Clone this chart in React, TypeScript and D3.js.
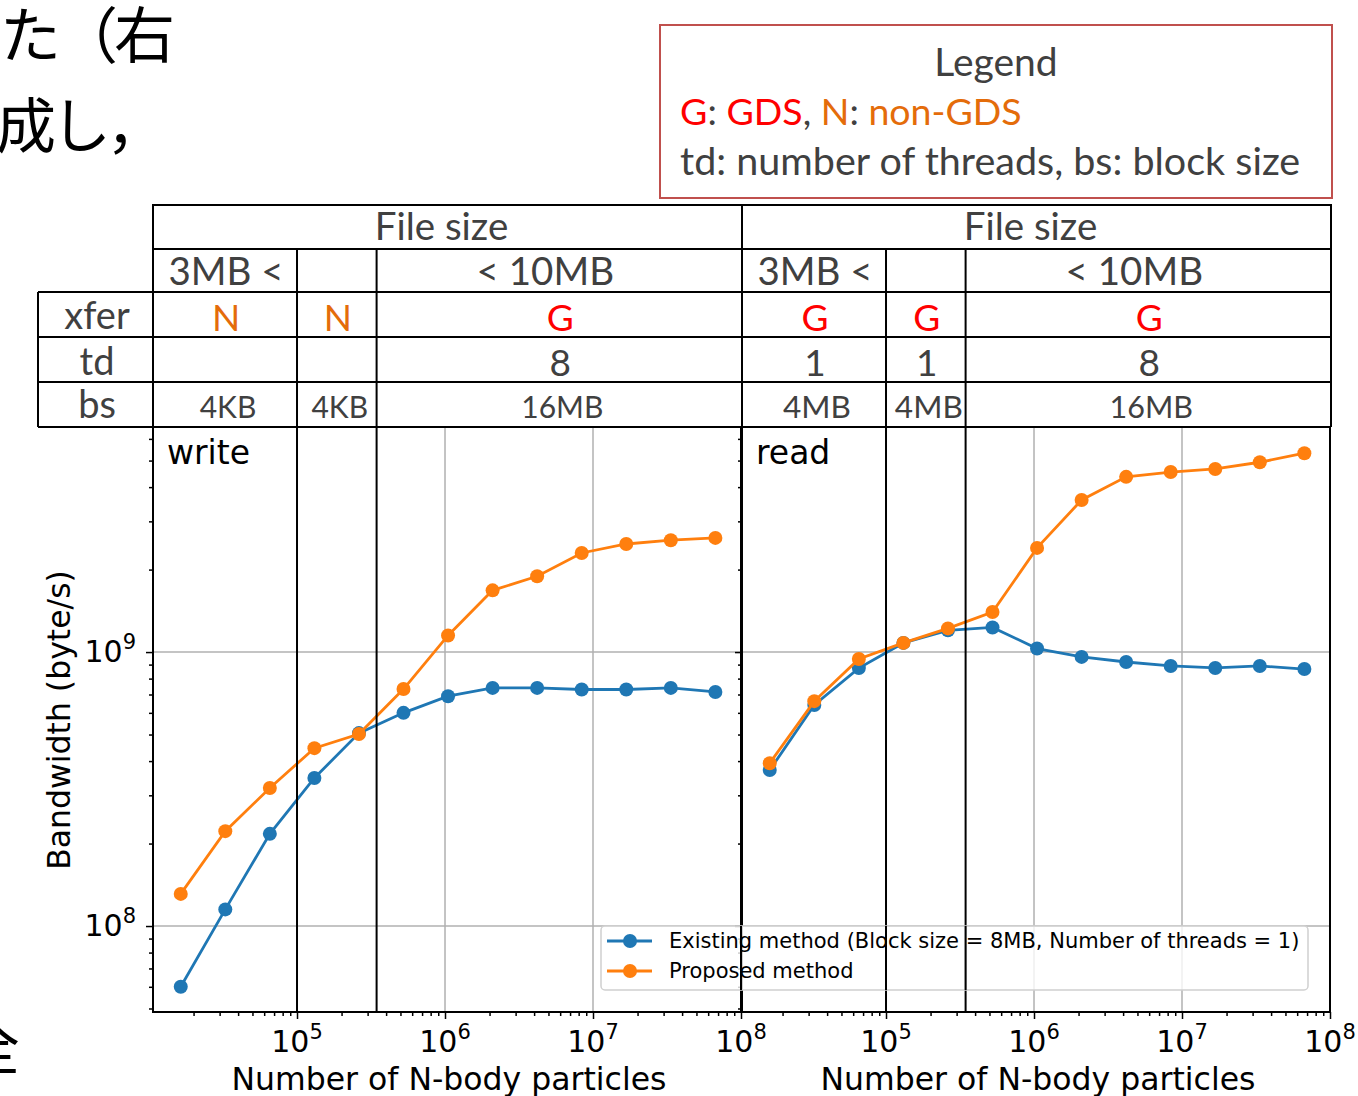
import React, { useRef, useEffect } from 'react';
import * as d3 from 'd3';

// N-body particle counts (x), shared by both panels
const particles = [16384, 32768, 65536, 131072, 262144, 524288, 1048576, 2097152, 4194304, 8388608, 16777216, 33554432, 67108864];

// bandwidth in byte/s
const writeExisting = [6.0e7, 1.15e8, 2.17e8, 3.47e8, 5.06e8, 6.0e8, 6.9e8, 7.4e8, 7.4e8, 7.3e8, 7.3e8, 7.4e8, 7.15e8];
const writeProposed = [1.31e8, 2.22e8, 3.19e8, 4.46e8, 5.02e8, 7.33e8, 1.15e9, 1.68e9, 1.89e9, 2.3e9, 2.48e9, 2.56e9, 2.61e9];
const readExisting = [3.71e8, 6.41e8, 8.74e8, 1.08e9, 1.2e9, 1.23e9, 1.03e9, 9.6e8, 9.2e8, 8.9e8, 8.75e8, 8.9e8, 8.67e8];
const readProposed = [3.93e8, 6.62e8, 9.43e8, 1.08e9, 1.22e9, 1.4e9, 2.4e9, 3.59e9, 4.36e9, 4.54e9, 4.66e9, 4.93e9, 5.32e9];

const xTicks = [1e5, 1e6, 1e7, 1e8];
const yTicks = [1e8, 1e9];
// black separators drawn over the plots (file size ranges)
const dividers = [1e5, 3.45e5];

const seriesNames = ['Existing method (Block size = 8MB, Number of threads = 1)', 'Proposed method'];
const rowLabels = ['xfer', 'td', 'bs'];
const fileSizeCells = ['3MB <', '', '< 10MB'];
const writeXfer = ['N', 'N', 'G'];
const writeTd = ['', '', '8'];
const writeBs = ['4KB', '4KB', '16MB'];
const readXfer = ['G', 'G', 'G'];
const readTd = ['1', '1', '8'];
const readBs = ['4MB', '4MB', '16MB'];

const BLUE = '#1f77b4';
const ORANGE = '#ff7f0e';
const RED_TXT = '#ff0000';
const ORANGE_TXT = '#e46c0a';
const GREY_TXT = '#404040';
const MPL = 'DejaVu Sans, sans-serif';
const PPT = 'Lato, Carlito, sans-serif';
const CJK = '"Noto Sans CJK JP", sans-serif';

const App = () => {
    const ref = useRef<SVGSVGElement | null>(null);

    useEffect(() => {
        const svg = d3.select(ref.current);
        svg.selectAll('*').remove();

        const top = 427, bottom = 1012;
        const rowY = [205, 249, 292, 337, 382, 427];
        const y = d3.scaleLog().domain([4.855e7, 6.63e9]).range([bottom, top]);

        const panels = [
            { name: 'write', x0: 153, x1: 741, existing: writeExisting, proposed: writeProposed, xfer: writeXfer, td: writeTd, bs: writeBs, bsSize: [30, 30, 30] },
            { name: 'read', x0: 742, x1: 1330, existing: readExisting, proposed: readProposed, xfer: readXfer, td: readTd, bs: readBs, bsSize: [31.5, 31.5, 30.5] },
        ];

        // Japanese body text clipped at the page edges
        svg.append('text').attr('x', 0).attr('y', 58).text('た（右').attr('letter-spacing', -4)
            .style('font-family', CJK).style('font-size', '61px').style('fill', '#000');
        svg.append('text').attr('x', -4).attr('y', 148).text('成し，').attr('letter-spacing', -5)
            .style('font-family', CJK).style('font-size', '60px').style('fill', '#000');
        svg.append('text').attr('x', -40).attr('y', 1070).text('全')
            .style('font-family', CJK).style('font-size', '60px').style('fill', '#000');

        // legend box (top right)
        svg.append('rect').attr('x', 660).attr('y', 25).attr('width', 672).attr('height', 173)
            .attr('fill', 'white').attr('stroke', '#c0504d').attr('stroke-width', 2);
        svg.append('text').attr('x', 996).attr('y', 76).attr('text-anchor', 'middle').text('Legend')
            .style('font-family', PPT).style('font-size', '39px').style('fill', GREY_TXT);
        const lg = svg.append('text').attr('x', 680).attr('y', 125)
            .style('font-family', PPT).style('font-size', '37.5px').style('fill', GREY_TXT);
        [['G', RED_TXT], [': ', GREY_TXT], ['GDS', RED_TXT], [', ', GREY_TXT], ['N', ORANGE_TXT], [': ', GREY_TXT], ['non-GDS', ORANGE_TXT]]
            .forEach(([t, c]) => lg.append('tspan').text(t).style('fill', c));
        svg.append('text').attr('x', 680).attr('y', 175).text('td: number of threads, bs: block size')
            .style('font-family', PPT).style('font-size', '39.5px').style('fill', GREY_TXT);

        const tableText = (x, yy, t, size, color = GREY_TXT) => {
            svg.append('text').attr('x', x).attr('y', yy).attr('text-anchor', 'middle').text(t)
                .style('font-family', PPT).style('font-size', size + 'px').style('fill', color);
        };
        const line = (x1, y1, x2, y2, w = 2, c = '#000') => {
            svg.append('line').attr('x1', x1).attr('y1', y1).attr('x2', x2).attr('y2', y2)
                .attr('stroke', c).attr('stroke-width', w);
        };

        panels.forEach(p => {
            const x = d3.scaleLog().domain([1.064e4, 1e8]).range([p.x0, p.x1]);
            const g = svg.append('g');

            // grid
            xTicks.slice(0, 3).forEach(t => {
                g.append('line').attr('x1', x(t)).attr('x2', x(t)).attr('y1', top).attr('y2', bottom)
                    .attr('stroke', '#b0b0b0').attr('stroke-width', 1.5);
            });
            yTicks.forEach(t => {
                g.append('line').attr('x1', p.x0).attr('x2', p.x1).attr('y1', y(t)).attr('y2', y(t))
                    .attr('stroke', '#b0b0b0').attr('stroke-width', 1.5);
            });

            // series
            const lineGen = d3.line<number>().x((d, i) => x(particles[i])).y(d => y(d));
            [[p.existing, BLUE], [p.proposed, ORANGE]].forEach(([vals, c]) => {
                g.append('path').attr('d', lineGen(vals as number[])).attr('fill', 'none')
                    .attr('stroke', c).attr('stroke-width', 2.8);
                g.selectAll(null).data(vals as number[]).enter().append('circle')
                    .attr('cx', (d, i) => x(particles[i])).attr('cy', d => y(d)).attr('r', 7)
                    .attr('fill', c);
            });

            // ticks: x
            const xAxis = d3.axisBottom(x).tickValues(xTicks).tickSize(7).tickFormat(() => '');
            g.append('g').attr('transform', `translate(0,${bottom})`).call(xAxis);
            const minorX = [];
            for (let e = 4; e < 8; e++) for (let m = 2; m <= 9; m++) if (m * 10 ** e > 1.064e4) minorX.push(m * 10 ** e);
            const xMinor = d3.axisBottom(x).tickValues(minorX).tickSize(4).tickFormat(() => '');
            g.append('g').attr('transform', `translate(0,${bottom})`).call(xMinor);
            xTicks.forEach(t => {
                const lab = g.append('text').attr('x', x(t)).attr('y', 1052).attr('text-anchor', 'middle')
                    .style('font-family', MPL).style('font-size', '30px').style('fill', '#000');
                lab.append('tspan').text('10');
                lab.append('tspan').text(String(Math.round(Math.log10(t)))).attr('dy', -13).style('font-size', '21px');
            });

            // ticks: y
            const yAxis = d3.axisLeft(y).tickValues(yTicks).tickSize(7).tickFormat(() => '');
            g.append('g').attr('transform', `translate(${p.x0},0)`).call(yAxis);
            const minorY = [];
            for (let e = 7; e < 10; e++) for (let m = 2; m <= 9; m++) if (m * 10 ** e > 4.855e7 && m * 10 ** e < 6.63e9) minorY.push(m * 10 ** e);
            const yMinor = d3.axisLeft(y).tickValues(minorY).tickSize(4).tickFormat(() => '');
            g.append('g').attr('transform', `translate(${p.x0},0)`).call(yMinor);
            g.selectAll('.domain').remove();
            g.selectAll('.tick line').attr('stroke', '#000').attr('stroke-width', 1.5);
            if (p.name === 'write') {
                yTicks.forEach(t => {
                    const lab = g.append('text').attr('x', 136).attr('y', y(t) + 10).attr('text-anchor', 'end')
                        .style('font-family', MPL).style('font-size', '30px').style('fill', '#000');
                    lab.append('tspan').text('10');
                    lab.append('tspan').text(String(Math.round(Math.log10(t)))).attr('dy', -13).style('font-size', '21px');
                });
            }

            // frame
            g.append('rect').attr('x', p.x0).attr('y', top).attr('width', p.x1 - p.x0).attr('height', bottom - top)
                .attr('fill', 'none').attr('stroke', '#000').attr('stroke-width', 2);

            g.append('text').attr('x', p.x0 + 14).attr('y', 464).text(p.name)
                .style('font-family', MPL).style('font-size', '33px').style('fill', '#000');
            g.append('text').attr('x', (p.x0 + p.x1) / 2 + 2).attr('y', 1090).attr('text-anchor', 'middle')
                .text('Number of N-body particles')
                .style('font-family', MPL).style('font-size', '31.5px').style('fill', '#000');

            // table over the panel
            const cols = [x.domain()[0], ...dividers, 1e8].map(v => x(v));
            const xL = p.x0, xR = p.x1 + 1;
            cols[0] = xL; cols[3] = xR;
            tableText((xL + xR) / 2 - 6, 240, 'File size', 38.5);
            for (let c = 0; c < 3; c++) {
                const cx = (cols[c] + cols[c + 1]) / 2;
                tableText(c === 2 ? cx - 14 : cx + 1, 285, fileSizeCells[c], 38.5);
                tableText(cx + 1, 331, p.xfer[c], 37, p.xfer[c] === 'G' ? RED_TXT : ORANGE_TXT);
                tableText(cx + 1, 376, p.td[c], 37);
                tableText(cx + 3, 418, p.bs[c], p.bsSize[c]);
            }
            for (let r = 0; r < 5; r++) line(xL - 1, rowY[r], xR + 1, rowY[r]);
            line(xL, rowY[0], xL, top);
            line(xR, rowY[0], xR, top);
            dividers.forEach(d => line(x(d), rowY[1], x(d), bottom));
        });

        // row header column
        line(38, rowY[2], 153, rowY[2]);
        line(38, rowY[3], 153, rowY[3]);
        line(38, rowY[4], 153, rowY[4]);
        line(38, rowY[5], 153, rowY[5]);
        line(38, rowY[2], 38, rowY[5]);
        rowLabels.forEach((t, i) => tableText(97, [329, 375, 418][i], t, 38));

        // y label
        svg.append('text').attr('transform', 'translate(70,720) rotate(-90)').attr('text-anchor', 'middle')
            .text('Bandwidth (byte/s)')
            .style('font-family', MPL).style('font-size', '31.5px').style('fill', '#000');

        // series legend spanning both panels
        const leg = svg.append('g');
        leg.append('rect').attr('x', 601).attr('y', 926).attr('width', 707).attr('height', 64).attr('rx', 4)
            .attr('fill', 'white').attr('fill-opacity', 0.8).attr('stroke', '#d0d0d0').attr('stroke-width', 1.5);
        [BLUE, ORANGE].forEach((c, i) => {
            const yy = 941 + i * 30;
            leg.append('line').attr('x1', 607).attr('x2', 652).attr('y1', yy).attr('y2', yy)
                .attr('stroke', c).attr('stroke-width', 2.8);
            leg.append('circle').attr('cx', 630).attr('cy', yy).attr('r', 7).attr('fill', c);
            leg.append('text').attr('x', 669).attr('y', yy + 7).text(seriesNames[i])
                .style('font-family', MPL).style('font-size', '21px').style('fill', '#000');
        });
        // separators are drawn over the legend in the figure
        const xr = d3.scaleLog().domain([1.064e4, 1e8]).range([742, 1330]);
        line(741, 926, 741, 990);
        line(xr(dividers[0]), 926, xr(dividers[0]), 990);
        line(xr(dividers[1]), 926, xr(dividers[1]), 990);
    }, []);

    return (
        <div style={{ position: 'absolute', left: 0, top: 0 }}>
            <svg ref={ref} width={1358} height={1096} style={{ display: 'block', background: '#fff' }} />
        </div>
    );
};

export default App;
